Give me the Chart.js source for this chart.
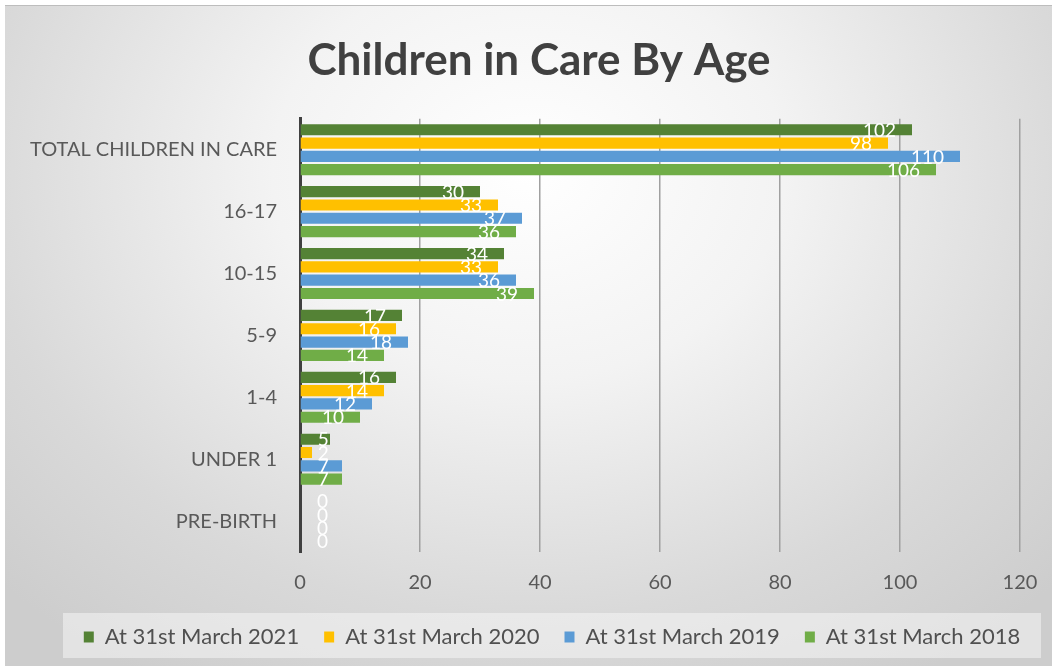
<!DOCTYPE html>
<html>
<head>
<meta charset="utf-8">
<script src="https://cdn.jsdelivr.net/npm/chart.js@4.4.1/dist/chart.umd.min.js"></script>
<style>
    html, body { margin: 0; padding: 0; background: #ffffff; }
    #moldura {
        position: absolute; left: 5px; top: 5px; width: 1047px; height: 660px;
        background: radial-gradient(ellipse 70% 90% at 50% 25%, #ffffff 0%, #f3f3f3 35%, #d9d9d9 75%, #cdcdcd 100%);
        border-top: 1px solid #bdbdbd;
    }
    #grafico { position: absolute; left: 0; top: 0; }
</style>
</head>
<body>
<div id="moldura"></div>
<canvas id="grafico" width="1058" height="670"></canvas>
<script>
// dados
const categorias = ["TOTAL CHILDREN IN CARE", "16-17", "10-15", "5-9", "1-4", "UNDER 1", "PRE-BIRTH"];
const rotulosSeries = ["At 31st March 2021", "At 31st March 2020", "At 31st March 2019", "At 31st March 2018"];
const valores2021 = [102, 30, 34, 17, 16, 5, 0];
const valores2020 = [98, 33, 33, 16, 14, 2, 0];
const valores2019 = [110, 37, 36, 18, 12, 7, 0];
const valores2018 = [106, 36, 39, 14, 10, 7, 0];
const ticksX = [0, 20, 40, 60, 80, 100, 120];

const cores = ["#548235", "#FFC000", "#5B9BD5", "#70AD47"];
const todasSeries = [valores2021, valores2020, valores2019, valores2018];

Chart.defaults.font.family = "Lato, 'Open Sans', sans-serif";

// ==========================================
// PLUGINS: posição do título/legenda, fundo da legenda, rótulos
// ==========================================
const ajusteCaixas = {
    id: "ajusteCaixas",
    afterLayout(chart) {
        // o título e a legenda ficam um pouco à direita no original
        const t = chart.titleBlock;
        if (t) { t.left += 19; t.right += 19; }
        const leg = chart.legend;
        if (leg) { leg.left += 32; leg.right += 32; }
    }
};

const fundoLegenda = {
    id: "fundoLegenda",
    beforeDraw(chart) {
        const leg = chart.legend;
        if (!leg) return;
        const ctx = chart.ctx;
        const cx = (leg.left + leg.right) / 2;
        ctx.save();
        ctx.fillStyle = "rgba(245,245,245,0.55)";
        ctx.fillRect(cx - 489, leg.top + 12, 978, leg.bottom - leg.top - 12);
        ctx.restore();
    }
};

const rotulosValores = {
    id: "rotulosValores",
    afterDatasetsDraw(chart) {
        const ctx = chart.ctx;
        ctx.save();
        ctx.font = "19px Lato";
        ctx.fillStyle = "#ffffff";
        ctx.textAlign = "right";
        ctx.textBaseline = "middle";
        chart.data.datasets.forEach((ds, i) => {
            chart.getDatasetMeta(i).data.forEach((barra, j) => {
                const texto = String(ds.data[j]);
                const largura = ctx.measureText(texto).width;
                const x = Math.max(barra.x - 16, barra.base + 17 + largura);
                ctx.fillText(texto, x, barra.y + 1);
            });
        });
        ctx.restore();
    }
};

new Chart(document.getElementById("grafico"), {
    type: "bar",
    data: {
        labels: categorias,
        datasets: rotulosSeries.map((nome, i) => ({
            label: nome,
            data: todasSeries[i],
            backgroundColor: cores[i],
            categoryPercentage: 0.86,
            barPercentage: 0.84
        }))
    },
    options: {
        indexAxis: "y",
        responsive: false,
        animation: false,
        devicePixelRatio: 1,
        layout: { padding: { left: 20, right: 38, top: 0, bottom: 12 } },
        plugins: {
            title: {
                display: true,
                text: "Children in Care By Age",
                color: "#404040",
                font: { size: 44, weight: "bold" },
                padding: { top: 34, bottom: 32 }
            },
            legend: {
                position: "bottom",
                labels: {
                    color: "#505050",
                    font: { size: 22 },
                    boxWidth: 10,
                    boxHeight: 11,
                    padding: 25
                }
            },
            tooltip: { enabled: false }
        },
        scales: {
            x: {
                min: 0,
                max: 120,
                afterBuildTicks: s => { s.ticks = ticksX.map(v => ({ value: v })); },
                afterFit: s => { s.height = 49; },
                grid: { color: "#a0a0a0", lineWidth: 1.5, drawTicks: false },
                border: { display: false },
                ticks: { color: "#595959", font: { size: 20 }, padding: 19 }
            },
            y: {
                z: 1,
                afterFit: s => { s.width = 300 - 20; },
                grid: { display: false, drawTicks: false },
                border: { display: true, color: "#404040", width: 3 },
                ticks: { color: "#595959", font: { size: 20 }, padding: 23 }
            }
        }
    },
    plugins: [ajusteCaixas, fundoLegenda, rotulosValores]
});
</script>
</body>
</html>
